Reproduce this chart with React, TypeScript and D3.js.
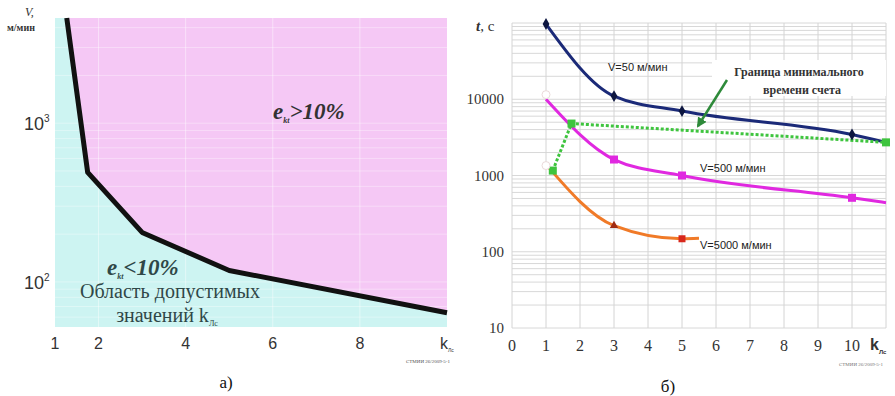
import { useEffect, useRef } from 'react';
import * as d3 from 'd3';

// panel a) boundary of admissible k values
const boundaryK = [1.27, 1.75, 3, 5, 10];
const boundaryV = [4600, 490, 205, 118, 64];
const leftXTicks = [1, 2, 4, 6, 8];

// panel b) counting time curves
const kPoints = [1, 3, 5, 10, 11];
const t50 = [97000, 11000, 7000, 3450, 2720];
const t500 = [10000, 1620, 1000, 510, 440];
const kPoints5000 = [1, 3, 5, 5.5];
const t5000 = [1400, 220, 148, 150];
const minK = [1.2, 1.75, 11];
const minT = [1160, 4800, 2720];
const rightXTicks = [0, 1, 2, 3, 4, 5, 6, 7, 8, 9, 10];
const rightYTicks = [10, 100, 1000, 10000];

export default function App() {
  const svgRef = useRef();

  useEffect(() => {
    const svg = d3.select(svgRef.current);
    svg.selectAll('*').remove();

    const serif = '"Liberation Serif", "DejaVu Serif", serif';
    const sans = '"Liberation Sans", Arial, sans-serif';

    // ---------- panel a) ----------
    const x1 = d3.scaleLinear().domain([1, 10]).range([55, 447]);
    const y1 = d3.scaleLog().domain([52, 4600]).range([327, 18]);
    const a = svg.append('g');

    a.append('rect')
      .attr('x', 55).attr('y', 18)
      .attr('width', 392).attr('height', 309)
      .attr('fill', '#f5c8f5');

    const pts = boundaryK.map((k, i) => [x1(k), y1(boundaryV[i])]);
    const lowArea = [[55, 18], ...pts, [447, 327], [55, 327]];
    a.append('path')
      .attr('d', d3.line()(lowArea) + 'Z')
      .attr('fill', '#cdf4f2');

    // faint grid
    [2, 4, 6, 8].forEach(v => {
      a.append('line')
        .attr('x1', x1(v)).attr('x2', x1(v))
        .attr('y1', 18).attr('y2', 327)
        .attr('stroke', '#ffffff').attr('stroke-opacity', 0.45);
    });
    const minorY = [];
    for (let d = 10; d <= 1000; d *= 10) {
      for (let m = 1; m < 10; m++) {
        const v = d * m;
        if (v > 52 && v < 4600) minorY.push(v);
      }
    }
    minorY.forEach(v => {
      a.append('line')
        .attr('x1', 55).attr('x2', 447)
        .attr('y1', y1(v)).attr('y2', y1(v))
        .attr('stroke', '#ffffff').attr('stroke-opacity', 0.35);
    });

    a.append('path')
      .attr('d', d3.line()(pts))
      .attr('fill', 'none')
      .attr('stroke', '#111')
      .attr('stroke-width', 5)
      .attr('stroke-linejoin', 'round');

    a.selectAll('.xt')
      .data(leftXTicks)
      .join('text')
      .attr('x', d => x1(d))
      .attr('y', 349)
      .attr('text-anchor', 'middle')
      .style('font-family', sans)
      .style('font-size', '16px')
      .style('fill', '#333')
      .text(d => d);
    const ka = a.append('text')
      .attr('x', x1(10) - 7).attr('y', 349)
      .style('font-family', sans).style('font-size', '16px').style('fill', '#333');
    ka.append('tspan').text('k');
    ka.append('tspan').attr('dy', 3).style('font-size', '5px').text('Лс');

    [[1000, '3'], [100, '2']].forEach(([v, e]) => {
      const t = a.append('text')
        .attr('x', 24).attr('y', y1(v) + 7)
        .style('font-family', sans).style('font-size', '18px').style('fill', '#333');
      t.append('tspan').text('10');
      t.append('tspan').attr('dy', -8).style('font-size', '10px').text(e);
    });

    a.append('text')
      .attr('x', 25).attr('y', 16)
      .style('font-family', serif).style('font-style', 'italic')
      .style('font-size', '12px').style('fill', '#333')
      .text('V,');
    a.append('text')
      .attr('x', 7).attr('y', 31)
      .style('font-family', serif).style('font-weight', 'bold')
      .style('font-size', '10px').style('fill', '#333')
      .text('м/мин');

    const big = a.append('text')
      .attr('x', 273).attr('y', 119)
      .style('font-family', serif).style('font-style', 'italic').style('font-weight', 'bold')
      .style('font-size', '23px').style('fill', '#333');
    big.append('tspan').text('e');
    big.append('tspan').attr('dy', 4).style('font-size', '8px').text('kt');
    big.append('tspan').attr('dy', -4).text('>10%');

    const small = a.append('text')
      .attr('x', 107).attr('y', 275)
      .style('font-family', serif).style('font-style', 'italic').style('font-weight', 'bold')
      .style('font-size', '23px').style('fill', '#2f4747');
    small.append('tspan').text('e');
    small.append('tspan').attr('dy', 4).style('font-size', '8px').text('kt');
    small.append('tspan').attr('dy', -4).text('<10%');

    a.append('text')
      .attr('x', 170).attr('y', 298)
      .attr('text-anchor', 'middle')
      .style('font-family', serif).style('font-size', '20px').style('fill', '#2f4747')
      .text('Область допустимых');
    const zn = a.append('text')
      .attr('x', 167).attr('y', 322)
      .attr('text-anchor', 'middle')
      .style('font-family', serif).style('font-size', '20px').style('fill', '#2f4747');
    zn.append('tspan').text('значений k');
    zn.append('tspan').attr('dy', 4).style('font-size', '8px').text('Лс');

    a.append('text')
      .attr('x', 450).attr('y', 363)
      .attr('text-anchor', 'end')
      .style('font-family', serif).style('font-size', '5px').style('fill', '#555')
      .text('СТМИИ 26/2009-5-1');

    a.append('text')
      .attr('x', 226).attr('y', 388)
      .attr('text-anchor', 'middle')
      .style('font-family', serif).style('font-size', '17px').style('fill', '#111')
      .text('а)');

    // ---------- panel b) ----------
    const x2 = d3.scaleLinear().domain([0, 11]).range([512, 886]);
    const y2 = d3.scaleLog().domain([10, 100000]).range([328, 23]);
    const b = svg.append('g');

    const gridY = [];
    for (let d = 10; d < 100000; d *= 10) {
      for (let m = 1; m < 10; m++) gridY.push(d * m);
    }
    gridY.push(100000);
    gridY.forEach(v => {
      b.append('line')
        .attr('x1', 512).attr('x2', 886)
        .attr('y1', y2(v)).attr('y2', y2(v))
        .attr('stroke', '#d8d8d8').attr('stroke-width', 1);
    });
    d3.range(0, 12).forEach(v => {
      b.append('line')
        .attr('x1', x2(v)).attr('x2', x2(v))
        .attr('y1', 23).attr('y2', 328)
        .attr('stroke', '#d4d4d4').attr('stroke-width', 1);
    });

    const curve = d3.line().curve(d3.curveMonotoneX);
    const toPts = (ks, ts) => ks.map((k, i) => [x2(k), y2(ts[i])]);

    b.append('path')
      .attr('d', curve(toPts(kPoints, t50)))
      .attr('fill', 'none').attr('stroke', '#1b2a78').attr('stroke-width', 3);
    b.append('path')
      .attr('d', curve(toPts(kPoints, t500)))
      .attr('fill', 'none').attr('stroke', '#e028e0').attr('stroke-width', 3);
    b.append('path')
      .attr('d', curve(toPts(kPoints5000, t5000)))
      .attr('fill', 'none').attr('stroke', '#f07a28').attr('stroke-width', 3);

    // boundary of minimal counting time
    b.append('path')
      .attr('d', d3.line()(toPts(minK, minT)))
      .attr('fill', 'none').attr('stroke', '#3ec43e')
      .attr('stroke-width', 3).attr('stroke-dasharray', '3,2');
    b.selectAll('.gm')
      .data(minK.map((k, i) => [k, minT[i]]))
      .join('rect')
      .attr('x', d => x2(d[0]) - 4).attr('y', d => y2(d[1]) - 4)
      .attr('width', 8).attr('height', 8)
      .attr('fill', '#3ec43e');

    // markers
    b.selectAll('.m50')
      .data(kPoints.slice(0, 4).map((k, i) => [k, t50[i]]))
      .join('path')
      .attr('transform', d => `translate(${x2(d[0])},${y2(d[1])})`)
      .attr('d', d3.symbol(d3.symbolDiamond, 40)())
      .attr('fill', '#0d1640');
    b.selectAll('.m500')
      .data(kPoints.slice(1, 4).map((k, i) => [k, t500[i + 1]]))
      .join('rect')
      .attr('x', d => x2(d[0]) - 4).attr('y', d => y2(d[1]) - 4)
      .attr('width', 8).attr('height', 8)
      .attr('fill', '#e028e0');
    b.append('path')
      .attr('transform', `translate(${x2(3)},${y2(t5000[1])})`)
      .attr('d', d3.symbol(d3.symbolTriangle, 30)())
      .attr('fill', '#a02a10');
    b.append('rect')
      .attr('x', x2(5) - 3.5).attr('y', y2(t5000[2]) - 3.5)
      .attr('width', 7).attr('height', 7)
      .attr('fill', '#d8281c');
    [[1, 11500], [1, 1350]].forEach(([k, t]) => {
      b.append('circle')
        .attr('cx', x2(k)).attr('cy', y2(t)).attr('r', 4)
        .attr('fill', '#fff').attr('stroke', '#eadada');
    });

    // axes labels
    b.selectAll('.xt')
      .data(rightXTicks)
      .join('text')
      .attr('x', d => x2(d))
      .attr('y', 351)
      .attr('text-anchor', 'middle')
      .style('font-family', serif).style('font-size', '16px').style('fill', '#333')
      .text(d => d);
    const kl = b.append('text')
      .attr('x', 870).attr('y', 350)
      .style('font-family', sans).style('font-weight', 'bold')
      .style('font-size', '16px').style('fill', '#333');
    kl.append('tspan').text('k');
    kl.append('tspan').attr('dy', 4).style('font-size', '6px').text('Лс');

    b.selectAll('.yt')
      .data(rightYTicks)
      .join('text')
      .attr('x', 504)
      .attr('y', d => y2(d) + 5)
      .attr('text-anchor', 'end')
      .style('font-family', serif).style('font-size', '15px').style('fill', '#333')
      .text(d => d);

    const tl = b.append('text')
      .attr('x', 476).attr('y', 31)
      .style('font-family', serif).style('font-size', '15px').style('fill', '#333');
    tl.append('tspan').style('font-style', 'italic').style('font-weight', 'bold').text('t');
    tl.append('tspan').text(', с');

    b.append('text')
      .attr('x', 608).attr('y', 71)
      .style('font-family', sans).style('font-size', '11px').style('fill', '#222')
      .text('V=50 м/мин');
    b.append('text')
      .attr('x', 700).attr('y', 172)
      .style('font-family', sans).style('font-size', '11px').style('fill', '#222')
      .text('V=500 м/мин');
    b.append('text')
      .attr('x', 700).attr('y', 249)
      .style('font-family', sans).style('font-size', '11px').style('fill', '#222')
      .text('V=5000 м/мин');

    b.append('rect')
      .attr('x', 712).attr('y', 60).attr('width', 174).attr('height', 36)
      .attr('fill', '#fff');
    b.append('text')
      .attr('x', 799).attr('y', 76)
      .attr('text-anchor', 'middle')
      .style('font-family', serif).style('font-weight', 'bold')
      .style('font-size', '12px').style('fill', '#333')
      .text('Граница минимального');
    b.append('text')
      .attr('x', 802).attr('y', 94)
      .attr('text-anchor', 'middle')
      .style('font-family', serif).style('font-weight', 'bold')
      .style('font-size', '12px').style('fill', '#333')
      .text('времени счета');

    // arrow to the boundary
    svg.append('defs').append('marker')
      .attr('id', 'arr')
      .attr('viewBox', '0 0 10 10')
      .attr('refX', 8).attr('refY', 5)
      .attr('markerWidth', 4).attr('markerHeight', 4)
      .attr('orient', 'auto')
      .append('path')
      .attr('d', 'M0,0L10,5L0,10Z')
      .attr('fill', '#2e8a3a');
    b.append('line')
      .attr('x1', 727).attr('y1', 80)
      .attr('x2', 698).attr('y2', 126)
      .attr('stroke', '#2e8a3a').attr('stroke-width', 2.5)
      .attr('marker-end', 'url(#arr)');

    b.append('text')
      .attr('x', 883).attr('y', 366)
      .attr('text-anchor', 'end')
      .style('font-family', serif).style('font-size', '5px').style('fill', '#777')
      .text('СТМИИ 26/2009-5-1');

    b.append('text')
      .attr('x', 668).attr('y', 392)
      .attr('text-anchor', 'middle')
      .style('font-family', serif).style('font-size', '17px').style('fill', '#111')
      .text('б)');
  }, []);

  return (
    <svg
      ref={svgRef}
      width={895}
      height={396}
      style={{ position: 'absolute', left: 0, top: 0, background: '#fff' }}
    />
  );
}
